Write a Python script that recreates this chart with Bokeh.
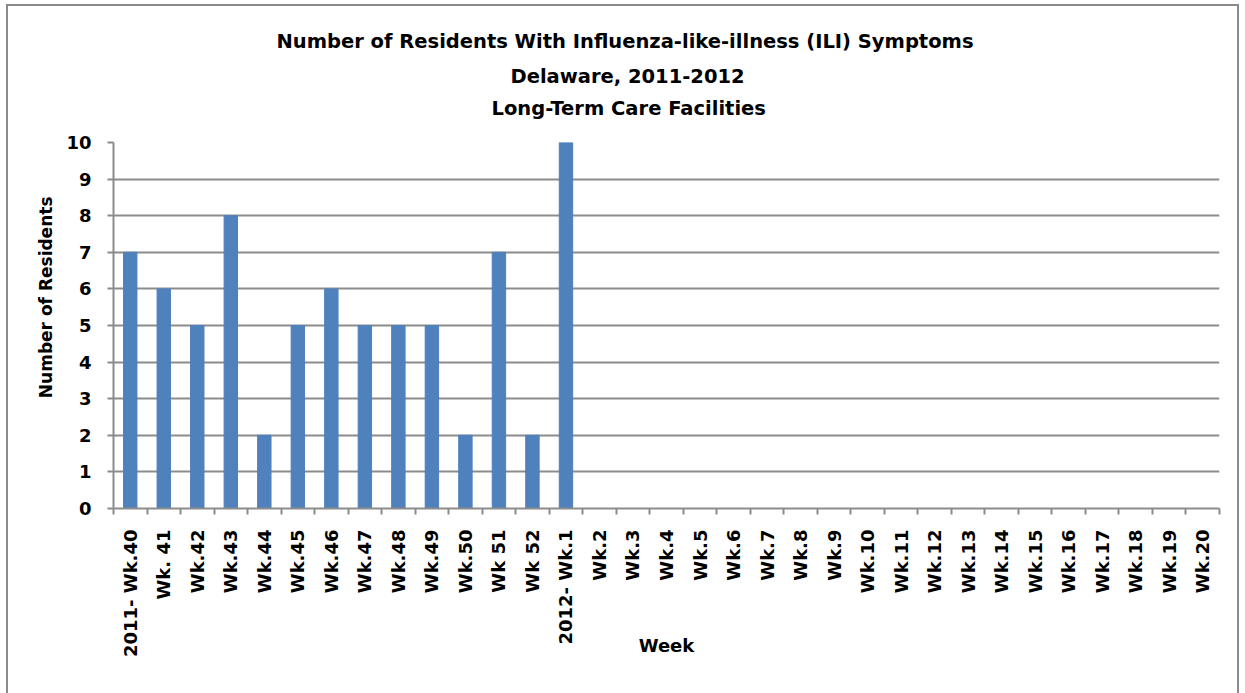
from bokeh.plotting import figure
from bokeh.models import FixedTicker, ColumnDataSource, Range1d, Title
from bokeh.embed import file_html
from bokeh.resources import INLINE
import math

weeks = ["2011- Wk.40", "Wk. 41", "Wk.42", "Wk.43", "Wk.44", "Wk.45", "Wk.46", "Wk.47",
         "Wk.48", "Wk.49", "Wk.50", "Wk 51", "Wk 52", "2012- Wk.1", "Wk.2", "Wk.3", "Wk.4",
         "Wk.5", "Wk.6", "Wk.7", "Wk.8", "Wk.9", "Wk.10", "Wk.11", "Wk.12", "Wk.13", "Wk.14",
         "Wk.15", "Wk.16", "Wk.17", "Wk.18", "Wk.19", "Wk.20"]
residents = [7, 6, 5, 8, 2, 5, 6, 5, 5, 5, 2, 7, 2, 10,
             0, 0, 0, 0, 0, 0, 0, 0, 0, 0, 0, 0, 0, 0, 0, 0, 0, 0, 0]
title_lines = ["Number of Residents With Influenza-like-illness (ILI) Symptoms",
               "Delaware, 2011-2012",
               "Long-Term Care Facilities"]
y_label = "Number of Residents"
x_label = "Week"
y_ticks = list(range(0, 11))

n = len(weeks)
xs = list(range(n))
src = ColumnDataSource(dict(x=xs, top=residents, week=weeks))

FONT = "DejaVu Sans"
GRAY = "#8c8c8c"

p = figure(width=1229, height=687, output_backend="svg", toolbar_location=None,
           x_range=Range1d(-0.5, n - 0.5), y_range=Range1d(0, 10),
           min_border_left=105, min_border_right=18, min_border_top=136, min_border_bottom=185)
p.styles = {"margin-left": "8px", "margin-top": "6px",
            "outline": "2px solid #8a8a8a", "outline-offset": "0px"}
p.outline_line_color = None
p.background_fill_color = "white"
p.border_fill_color = "white"

p.vbar(x="x", top="top", bottom=0, width=0.4, color="#4F81BD", source=src)

# x axis
xa = p.xaxis[0]
xa.ticker = FixedTicker(ticks=xs, minor_ticks=[i - 0.5 for i in range(n + 1)])
xa.major_label_overrides = {i: w for i, w in enumerate(weeks)}
xa.major_label_orientation = math.pi / 2
xa.major_tick_out = 0
xa.major_tick_in = 0
xa.minor_tick_out = 6
xa.minor_tick_in = 0
xa.minor_tick_line_color = GRAY
xa.minor_tick_line_width = 2
xa.axis_line_color = GRAY
xa.axis_line_width = 2
xa.major_label_text_font = FONT
xa.major_label_text_font_style = "bold"
xa.major_label_text_font_size = "18px"
xa.major_label_text_color = "black"
xa.major_label_standoff = 15
xa.axis_label = x_label
xa.axis_label_text_font = FONT
xa.axis_label_text_font_style = "bold"
xa.axis_label_text_font_size = "18px"
xa.axis_label_text_color = "black"
xa.axis_label_standoff = -25

# y axis
ya = p.yaxis[0]
ya.ticker = FixedTicker(ticks=y_ticks, minor_ticks=[])
ya.major_tick_out = 6
ya.major_tick_in = 0
ya.major_tick_line_color = GRAY
ya.major_tick_line_width = 2
ya.axis_line_color = GRAY
ya.axis_line_width = 2
ya.major_label_text_font = FONT
ya.major_label_text_font_style = "bold"
ya.major_label_text_font_size = "18px"
ya.major_label_text_color = "black"
ya.major_label_standoff = 16

# y-axis title as a side title (so it can sit slightly above centre)
ytitle = Title(text=y_label, align="right", offset=54,
               text_font=FONT, text_font_style="bold", text_font_size="17px",
               text_color="black", standoff=16)
p.add_layout(ytitle, "left")

p.xgrid.grid_line_color = None
p.ygrid.grid_line_color = GRAY
p.ygrid.grid_line_width = 2
p.ygrid.ticker = FixedTicker(ticks=y_ticks)

# invisible spacer between the frame and the title block
p.add_layout(Title(text=" ", text_font=FONT, text_font_size="18px",
                   text_color="white", standoff=0), "above")

# chart title: three lines, centred on the whole chart box (not the frame)
standoffs = [8, 13, 0]
offsets = [163, 397, 378]
for line, so, off in reversed(list(zip(title_lines, standoffs, offsets))):
    p.add_layout(Title(text=line, align="left", offset=off,
                       text_font=FONT, text_font_style="bold", text_font_size="19.5px",
                       text_color="black", standoff=so), "above")

open("out.html", "w").write(file_html(p, INLINE))
